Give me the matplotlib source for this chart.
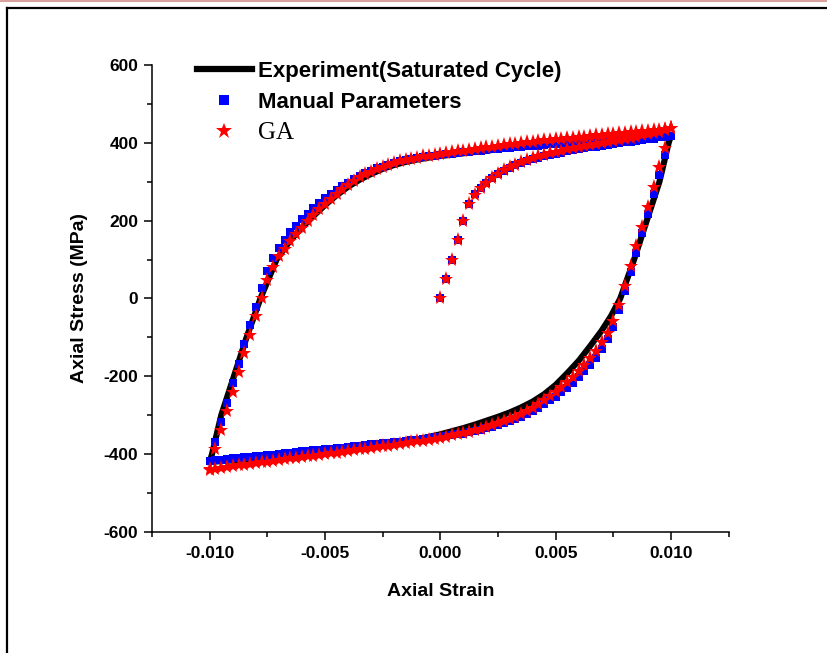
import matplotlib
matplotlib.use("Agg")
import matplotlib.pyplot as plt
import matplotlib.ticker as mticker
from matplotlib.lines import Line2D
import numpy as np

# strain steps of the simulations (0.00025 per step)
strain_first = np.linspace(0.0, 0.010, 41)
strain_down = np.linspace(0.010, -0.010, 81)
strain_up = np.linspace(-0.010, 0.010, 81)

# experiment, saturated cycle (MPa)
exp_strain = [-0.0100, -0.0099, -0.0095, -0.00895, -0.0084, -0.0078, -0.0071, -0.0065,
              -0.0060, -0.0055, -0.0050, -0.0045, -0.0040, -0.0035, -0.0030, -0.0025,
              -0.0020, -0.0015, -0.0010, -0.0005, 0.0, 0.001, 0.002, 0.003, 0.004,
              0.005, 0.006, 0.007, 0.008, 0.009, 0.010,
              0.0099, 0.0095, 0.00895, 0.0084, 0.0078, 0.0074, 0.0070, 0.0065, 0.0060,
              0.0055, 0.0050, 0.0045, 0.0040, 0.0035, 0.0030, 0.0025, 0.0020, 0.0015,
              0.0010, 0.0005, 0.0, -0.001, -0.002, -0.003, -0.004, -0.005, -0.006,
              -0.007, -0.008, -0.009, -0.010]
exp_stress = [-420, -400, -300, -200, -100, 0, 100, 150,
              182, 212, 240, 265, 287, 305, 320, 333,
              343, 351, 357, 362, 366, 373, 380, 386, 392,
              397, 402, 406, 410, 414, 418,
              400, 300, 200, 100, 0, -45, -82, -122, -160,
              -192, -222, -246, -265, -280, -293, -304, -314, -324,
              -333, -341, -349, -362, -372, -381, -389, -396, -402,
              -407, -411, -416, -420]

# manual parameters
manual_first = [0, 50, 100, 150, 200, 243, 268, 285, 298, 309, 319, 328, 335, 342, 348,
                353, 358, 362, 366, 369, 372, 375, 378, 381, 383, 386, 388, 390, 393,
                395, 397, 399, 401, 403, 405, 407, 409, 411, 414, 416, 418]
manual_down = [418, 368, 318, 268, 218, 168, 118, 68, 19, -29, -72, -105, -131, -152,
               -170, -187, -202, -216, -229, -241, -252, -262, -272, -281, -289, -297,
               -304, -310, -316, -321, -326, -330, -334, -338, -341, -344, -347, -349,
               -351, -353, -355, -357, -359, -361, -363, -364, -366, -368, -369, -371,
               -372, -374, -375, -377, -378, -380, -381, -383, -384, -386, -387, -389,
               -390, -392, -393, -395, -396, -398, -399, -401, -402, -404, -405, -407,
               -408, -410, -411, -413, -414, -416, -418]
manual_up = [-418, -368, -318, -268, -218, -168, -118, -69, -21, 27, 70, 104, 130, 151,
             170, 187, 203, 218, 232, 245, 257, 268, 279, 289, 298, 307, 315, 322, 328,
             334, 339, 344, 348, 352, 355, 358, 361, 363, 365, 367, 369, 371, 372, 374,
             376, 377, 379, 380, 382, 383, 385, 386, 387, 389, 390, 391, 392, 393, 395,
             396, 397, 398, 399, 400, 401, 402, 403, 404, 405, 406, 407, 408, 409, 410,
             411, 412, 413, 414, 415, 417, 418]

# GA parameters
ga_first = [0, 50, 100, 150, 200, 242, 266, 283, 297, 309, 320, 329, 337, 344, 350,
            356, 361, 365, 369, 373, 377, 380, 383, 386, 389, 391, 394, 396, 399, 401,
            404, 407, 410, 413, 416, 419, 422, 425, 429, 433, 437]
ga_down = [437, 387, 337, 287, 236, 184, 134, 83, 33, -18, -58, -88, -113, -134, -153,
           -170, -186, -201, -215, -228, -240, -251, -262, -272, -281, -289, -297, -304,
           -310, -316, -321, -326, -331, -335, -339, -343, -346, -349, -352, -355, -358,
           -360, -363, -365, -367, -370, -372, -374, -376, -378, -380, -382, -384, -386,
           -388, -390, -392, -394, -396, -398, -400, -402, -404, -405, -407, -409, -411,
           -413, -415, -417, -419, -421, -423, -425, -427, -429, -431, -433, -435, -437,
           -440]
ga_up = [-437, -387, -337, -288, -239, -190, -141, -93, -46, 2, 48, 80, 108, 128, 147,
         165, 182, 198, 214, 229, 243, 256, 269, 281, 292, 302, 311, 319, 326, 332, 338,
         343, 348, 352, 356, 359, 362, 365, 367, 369, 371, 374, 376, 378, 380, 382, 384,
         386, 388, 390, 392, 394, 396, 398, 399, 401, 403, 404, 406, 407, 409, 410, 412,
         413, 415, 416, 418, 419, 420, 422, 423, 424, 426, 427, 428, 430, 431, 432, 434,
         435, 437]

plt.rcParams['font.family'] = ['Liberation Sans', 'DejaVu Sans']

fig = plt.figure(figsize=(8.28, 6.53), dpi=100)
ax = fig.add_axes([0.1836, 0.1853, 0.6964, 0.7152])

ax.plot(exp_strain, exp_stress, color="black", linewidth=4.4, zorder=2)

m_strain = np.concatenate([strain_first, strain_down, strain_up])
m_stress = manual_first + manual_down + manual_up
g_stress = ga_first + ga_down + ga_up
ax.plot(m_strain, m_stress, linestyle="none", marker="s", markersize=6.3,
        color="#0000ff", markeredgewidth=0, zorder=3)
ax.plot(m_strain, g_stress, linestyle="none", marker="*", markersize=11,
        color="#ff0000", markeredgewidth=0, zorder=4)

ax.set_xlim(-0.0125, 0.0125)
ax.set_ylim(-600, 600)
ax.xaxis.set_major_locator(mticker.MultipleLocator(0.005))
ax.xaxis.set_minor_locator(mticker.MultipleLocator(0.0025))
ax.yaxis.set_major_locator(mticker.MultipleLocator(200))
ax.yaxis.set_minor_locator(mticker.MultipleLocator(100))
ax.xaxis.set_major_formatter(mticker.FormatStrFormatter('%.3f'))
ax.yaxis.set_major_formatter(mticker.FormatStrFormatter('%d'))
ax.tick_params(which="major", direction="out", length=6, width=1.1, labelsize=12.5, pad=4)
ax.tick_params(which="minor", direction="out", length=3.5, width=1.1)
for lab in ax.get_xticklabels() + ax.get_yticklabels():
    lab.set_fontweight("bold")
for side in ("top", "right"):
    ax.spines[side].set_visible(False)
for side in ("left", "bottom"):
    ax.spines[side].set_linewidth(1.1)

ax.set_xlabel("Axial Strain", fontsize=14, fontweight="bold", labelpad=16)
ax.set_ylabel("Axial Stress (MPa)", fontsize=14, fontweight="bold", labelpad=11)

handles = [
    Line2D([], [], color="black", linewidth=4.5),
    Line2D([], [], linestyle="none", marker="s", markersize=7, color="#0000ff", markeredgewidth=0),
    Line2D([], [], linestyle="none", marker="*", markersize=12, color="#ff0000", markeredgewidth=0),
]
labels = ["Experiment(Saturated Cycle)", "Manual Parameters", "GA"]
leg = ax.legend(handles, labels, loc="upper left", bbox_to_anchor=(0.062, 1.027),
                frameon=False, handlelength=2.5, handletextpad=0.25, labelspacing=0.42,
                borderaxespad=0, prop={"size": 16, "weight": "bold"})
ga_text = leg.get_texts()[2]
ga_text.set_fontfamily("Liberation Serif")
ga_text.set_fontweight("normal")
ga_text.set_fontsize(18)

# page frame around the figure
fig.add_artist(Line2D([0, 1], [0.998, 0.998], color="#d9a0a0", linewidth=1.5))
fig.add_artist(Line2D([0.0085, 0.0085], [0, 0.988], color="black", linewidth=1.6))
fig.add_artist(Line2D([0.0085, 1], [0.988, 0.988], color="black", linewidth=1.6))

fig.savefig("out.png", dpi=100)
